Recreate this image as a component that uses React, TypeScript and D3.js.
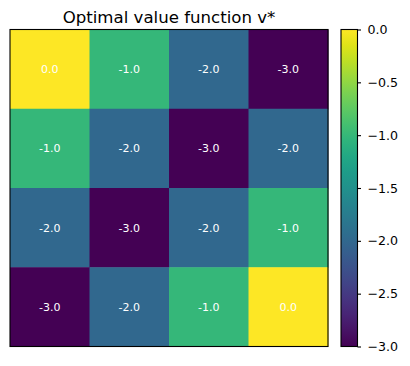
import React, { useEffect, useRef } from 'react';
import * as d3 from 'd3';

// rows of the value grid (top row first)
const rowLabels = [0, 1, 2, 3];
const colLabels = [0, 1, 2, 3];
const row0 = [0, -1, -2, -3];
const row1 = [-1, -2, -3, -2];
const row2 = [-2, -3, -2, -1];
const row3 = [-3, -2, -1, 0];
const colorTicks = [0, -0.5, -1, -1.5, -2, -2.5, -3];

const W = 410;
const H = 366;

const App = () => {
  const ref = useRef<SVGSVGElement>(null);

  useEffect(() => {
    const svg = d3.select(ref.current);
    svg.selectAll('*').remove();

    const font = 'DejaVu Sans, sans-serif';
    const top = 29.5;
    const bottom = 346.5;
    const left = 10;
    const right = 328;

    const rows = [row0, row1, row2, row3];
    const cells = rows.flatMap((r, i) => r.map((v, j) => ({ r: rowLabels[i], c: colLabels[j], v })));

    const x = d3.scaleBand<number>().domain(colLabels).range([left, right]);
    const y = d3.scaleBand<number>().domain(rowLabels).range([top, bottom]);
    const color = d3.scaleSequential(d3.interpolateViridis).domain([-3, 0]);

    // heatmap cells
    svg.append('g')
      .selectAll('rect')
      .data(cells)
      .join('rect')
      .attr('x', (d) => x(d.c)!)
      .attr('y', (d) => y(d.r)!)
      .attr('width', x.bandwidth() + 0.5)
      .attr('height', y.bandwidth() + 0.5)
      .attr('fill', (d) => color(d.v));

    // cell annotations
    svg.append('g')
      .selectAll('text')
      .data(cells)
      .join('text')
      .attr('x', (d) => x(d.c)! + x.bandwidth() / 2)
      .attr('y', (d) => y(d.r)! + y.bandwidth() / 2)
      .attr('dy', '0.36em')
      .attr('text-anchor', 'middle')
      .attr('fill', 'white')
      .style('font-family', font)
      .style('font-size', '11px')
      .text((d) => d.v.toFixed(1));

    // frame
    svg.append('rect')
      .attr('x', left)
      .attr('y', top)
      .attr('width', right - left)
      .attr('height', bottom - top)
      .attr('fill', 'none')
      .attr('stroke', 'black')
      .attr('stroke-width', 1.1);

    // title
    svg.append('text')
      .attr('x', (left + right) / 2)
      .attr('y', 22.5)
      .attr('text-anchor', 'middle')
      .style('font-family', font)
      .style('font-size', '16.6px')
      .text('Optimal value function v*');

    // colorbar
    const cbLeft = 341;
    const cbRight = 357.5;
    const cy = d3.scaleLinear().domain([-3, 0]).range([bottom, top]);

    const defs = svg.append('defs');
    const grad = defs.append('linearGradient')
      .attr('id', 'cb-grad')
      .attr('x1', 0).attr('y1', 1).attr('x2', 0).attr('y2', 0);
    d3.range(0, 1.0001, 0.05).forEach((t) => {
      grad.append('stop')
        .attr('offset', t)
        .attr('stop-color', d3.interpolateViridis(t));
    });

    svg.append('rect')
      .attr('x', cbLeft)
      .attr('y', top)
      .attr('width', cbRight - cbLeft)
      .attr('height', bottom - top)
      .attr('fill', 'url(#cb-grad)')
      .attr('stroke', 'black')
      .attr('stroke-width', 1.1);

    const axis = d3.axisRight(cy)
      .tickValues(colorTicks)
      .tickSize(3.5)
      .tickPadding(6.5)
      .tickFormat((d) => d3.format('.1f')(d as number).replace('-', '\u2212'));

    const g = svg.append('g')
      .attr('transform', `translate(${cbRight},0)`)
      .call(axis);
    g.select('.domain').remove();
    g.selectAll('line').attr('stroke', 'black').attr('stroke-width', 1.1);
    g.selectAll('text')
      .attr('fill', 'black')
      .style('font-family', font)
      .style('font-size', '12.6px');
  }, []);

  return (
    <svg
      ref={ref}
      width={W}
      height={H}
      style={{ position: 'absolute', left: 0, top: 0, background: 'white' }}
    />
  );
};

export default App;
